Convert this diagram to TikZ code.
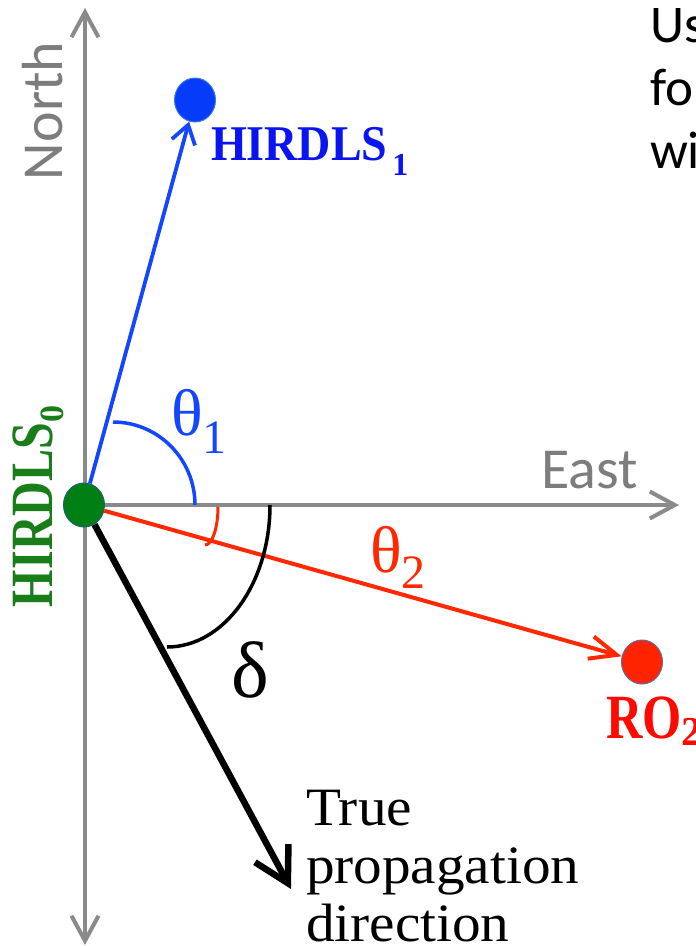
\documentclass[tikz,border=0pt]{standalone}
\usepackage{fontspec}
\usepackage{graphicx}
\setmainfont{Liberation Serif}
\newfontfamily\calibrifont{Carlito}
\usetikzlibrary{arrows.meta,shapes.geometric}
\definecolor{axisgray}{RGB}{138,138,138}
\definecolor{labgray}{RGB}{125,125,125}
\definecolor{lineblue}{RGB}{20,70,255}
\definecolor{dotblue}{RGB}{5,60,250}
\definecolor{dotblueedge}{RGB}{60,120,230}
\definecolor{txtblue}{RGB}{10,20,240}
\definecolor{dotgreen}{RGB}{0,128,20}
\definecolor{dotgreenedge}{RGB}{30,100,110}
\definecolor{txtgreen}{RGB}{25,125,25}
\definecolor{linered}{RGB}{255,40,0}
\definecolor{dotred}{RGB}{255,35,0}
\definecolor{dotrededge}{RGB}{90,110,170}
\definecolor{txtred}{RGB}{255,10,0}
\begin{document}
\begin{tikzpicture}[x=1pt,y=-1pt,
  axis/.style={draw=axisgray, line width=4pt},
  dotnode/.style={ellipse, minimum width=41pt, minimum height=44pt, inner sep=0pt, line width=1pt},
  lab/.style={inner sep=0pt, outer sep=0pt},
  bluearrow/.style={draw=lineblue, line width=3.8pt, -{Straight Barb[length=18pt,width=24pt]}},
  redarrow/.style={draw=linered, line width=4pt, -{Straight Barb[length=27pt,width=23pt]}},
  blackarrow/.style={draw=black, line width=6.5pt, -{Straight Barb[length=34pt,width=38pt]}},
  anglearc/.style={line width=3.5pt}
]
\fill[white] (0,0) rectangle (696,946);
\useasboundingbox (0,0) rectangle (696,946);
\coordinate (ntop) at (85,8);
\coordinate (sbot) at (85,945);
\coordinate (O) at (84,505);
\coordinate (etip) at (679,505);
\coordinate (ptip) at (291,889);
% axes
\draw[axis, {Straight Barb[length=25pt,width=27pt]}-{Straight Barb[length=25pt,width=27pt]}] (ntop) -- (sbot);
\draw[axis, -{Straight Barb[length=25pt,width=27pt]}] (O) -- (etip);
% dots
\node[dotnode, fill=dotgreen, draw=dotgreenedge] (H0) at (O) {};
\node[dotnode, fill=dotblue, draw=dotblueedge] (H1) at (195,100) {};
\node[dotnode, fill=dotred, draw=dotrededge] (R2) at (642,662) {};
% connectors
\draw[bluearrow] (H0) -- (H1);
\draw[redarrow] (H0) -- (R2);
\draw[blackarrow] (H0) -- (ptip);
% angle arcs
\draw[anglearc, lineblue] (195,505) arc[start angle=0, end angle=-90, x radius=82, y radius=83];
\draw[anglearc, linered, line width=3pt] (218,507) arc[start angle=0, end angle=90, x radius=13, y radius=38];
\draw[anglearc, black] (270,505) arc[start angle=0, end angle=90, x radius=103, y radius=142];
% labels
\node[lab, text=labgray, rotate=90, anchor=base west, font=\calibrifont\fontsize{58}{58}\selectfont] (north) at (62,180) {North};
\node[lab, text=labgray, anchor=base west, font=\calibrifont\fontsize{58}{58}\selectfont] (east) at (541,488) {East};
\node[lab, text=txtblue, anchor=base west] (l1) at (211,160) {\scalebox{0.92}[1]{\bfseries\fontsize{50}{60}\selectfont HIRDLS}\hspace{5pt}\raisebox{-15pt}{\bfseries\fontsize{32}{32}\selectfont 1}};
\node[lab, text=txtgreen, rotate=90, anchor=base west] (l0) at (52,607) {\scalebox{0.8}[1]{\bfseries\fontsize{60}{72}\selectfont HIRDLS}\raisebox{-11pt}{\bfseries\fontsize{34}{34}\selectfont 0}};
\node[lab, text=txtred, anchor=base west] (lr) at (606,738) {\scalebox{0.8}[1]{\bfseries\fontsize{63}{72}\selectfont RO}\raisebox{-7pt}{\bfseries\fontsize{41}{41}\selectfont 2}};
\node[lab, text=lineblue, anchor=base west] (t1) at (171,435) {\fontsize{66}{66}\selectfont θ\raisebox{-18pt}{\fontsize{48}{48}\selectfont 1}};
\node[lab, text=linered, anchor=base west] (t2) at (370,572) {\fontsize{66}{66}\selectfont θ\raisebox{-16pt}{\fontsize{48}{48}\selectfont 2}};
\node[lab, text=black, anchor=base west] (d) at (231,697) {\fontsize{80}{80}\selectfont δ};
\node[lab, anchor=base west, align=left, xscale=1.06, font=\fontsize{54}{58}\selectfont] (tpd) at (306,941) {True\\propagation\\direction};
\node[lab, anchor=base west, align=left, font=\calibrifont\fontsize{53}{63}\selectfont] (us) at (650,168) {Us\\fo\\wi};
\end{tikzpicture}
\end{document}
